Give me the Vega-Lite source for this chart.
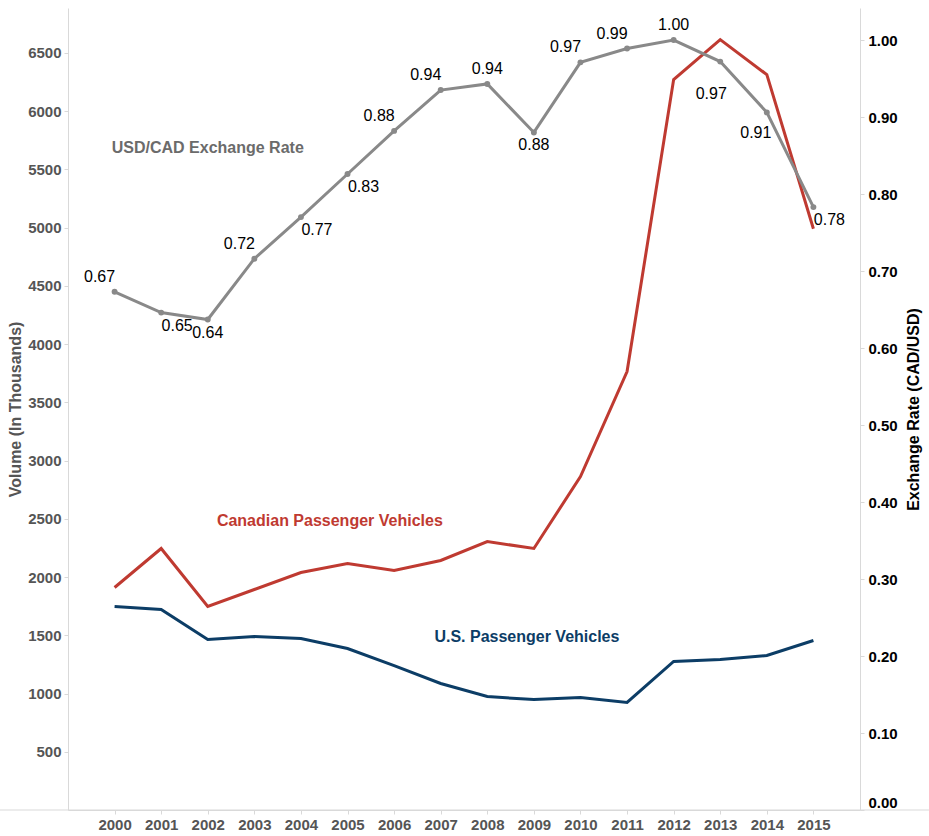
{
  "$schema": "https://vega.github.io/schema/vega-lite/v6.json",
  "width": 792,
  "height": 802,
  "autosize": {"type": "none"},
  "padding": {"left": 68, "top": 8, "right": 69, "bottom": 26},
  "background": "white",
  "config": {
    "view": {"stroke": null},
    "font": "Liberation Sans",
    "axis": {
      "grid": false,
      "domainColor": "#d9d9d9",
      "tickColor": "#d9d9d9",
      "tickSize": 4,
      "labelFont": "Liberation Sans",
      "labelFontWeight": "bold",
      "labelFontSize": 15,
      "titleFont": "Liberation Sans",
      "titleFontWeight": "bold",
      "titleFontSize": 16
    }
  },
  "datasets": {
    "vehicles": [
      {"year": 2000, "series": "Canadian", "volume": 1910},
      {"year": 2001, "series": "Canadian", "volume": 2245},
      {"year": 2002, "series": "Canadian", "volume": 1747},
      {"year": 2003, "series": "Canadian", "volume": 1893},
      {"year": 2004, "series": "Canadian", "volume": 2039},
      {"year": 2005, "series": "Canadian", "volume": 2116},
      {"year": 2006, "series": "Canadian", "volume": 2056},
      {"year": 2007, "series": "Canadian", "volume": 2142},
      {"year": 2008, "series": "Canadian", "volume": 2305},
      {"year": 2009, "series": "Canadian", "volume": 2245},
      {"year": 2010, "series": "Canadian", "volume": 2863},
      {"year": 2011, "series": "Canadian", "volume": 3764},
      {"year": 2012, "series": "Canadian", "volume": 6270},
      {"year": 2013, "series": "Canadian", "volume": 6614},
      {"year": 2014, "series": "Canadian", "volume": 6313},
      {"year": 2015, "series": "Canadian", "volume": 4990},
      {"year": 2000, "series": "US", "volume": 1747},
      {"year": 2001, "series": "US", "volume": 1721},
      {"year": 2002, "series": "US", "volume": 1463},
      {"year": 2003, "series": "US", "volume": 1489},
      {"year": 2004, "series": "US", "volume": 1472},
      {"year": 2005, "series": "US", "volume": 1386},
      {"year": 2006, "series": "US", "volume": 1240},
      {"year": 2007, "series": "US", "volume": 1086},
      {"year": 2008, "series": "US", "volume": 974},
      {"year": 2009, "series": "US", "volume": 948},
      {"year": 2010, "series": "US", "volume": 966},
      {"year": 2011, "series": "US", "volume": 923},
      {"year": 2012, "series": "US", "volume": 1275},
      {"year": 2013, "series": "US", "volume": 1292},
      {"year": 2014, "series": "US", "volume": 1326},
      {"year": 2015, "series": "US", "volume": 1455}
    ],
    "rate": [
      {"year": 2000, "rate": 0.673},
      {"year": 2001, "rate": 0.646},
      {"year": 2002, "rate": 0.637},
      {"year": 2003, "rate": 0.716},
      {"year": 2004, "rate": 0.770},
      {"year": 2005, "rate": 0.826},
      {"year": 2006, "rate": 0.882},
      {"year": 2007, "rate": 0.935},
      {"year": 2008, "rate": 0.943},
      {"year": 2009, "rate": 0.880},
      {"year": 2010, "rate": 0.971},
      {"year": 2011, "rate": 0.989},
      {"year": 2012, "rate": 1.000},
      {"year": 2013, "rate": 0.972},
      {"year": 2014, "rate": 0.906},
      {"year": 2015, "rate": 0.783}
    ],
    "vehicleNotes": [
      {"year": 2004.62, "volume": 2485, "series": "Canadian", "label": "Canadian Passenger Vehicles"},
      {"year": 2008.85, "volume": 1489, "series": "US", "label": "U.S. Passenger Vehicles"}
    ],
    "rateNotes": [
      {"year": 2002.0, "rate": 0.86, "label": "USD/CAD Exchange Rate"}
    ],
    "baseline": [
      {"year": 1997.54, "year2": 2017.48, "rate": 0}
    ]
  },
  "encoding": {
    "x": {
      "field": "year",
      "type": "quantitative",
      "scale": {"domain": [1999, 2016], "nice": false, "zero": false},
      "axis": {
        "title": null,
        "values": [2000, 2001, 2002, 2003, 2004, 2005, 2006, 2007, 2008, 2009, 2010, 2011, 2012, 2013, 2014, 2015],
        "format": "d",
        "labelColor": "#555555",
        "labelPadding": 3,
        "labelFlush": false
      }
    }
  },
  "layer": [
    {
      "encoding": {
        "y": {
          "field": "volume",
          "type": "quantitative",
          "scale": {"domain": [0, 6885], "nice": false, "zero": true},
          "axis": {
            "orient": "left",
            "title": "Volume (In Thousands)",
            "titleColor": "#555555",
            "labelColor": "#555555",
            "format": "d",
            "values": [500, 1000, 1500, 2000, 2500, 3000, 3500, 4000, 4500, 5000, 5500, 6000, 6500],
            "labelPadding": 3,
            "titlePadding": 4
          }
        },
        "color": {
          "field": "series",
          "type": "nominal",
          "scale": {"domain": ["Canadian", "US"], "range": ["#bf3a31", "#0c3d66"]},
          "legend": null
        }
      },
      "layer": [
        {
          "data": {"name": "vehicles"},
          "mark": {"type": "line", "strokeWidth": 3, "interpolate": "linear"}
        },
        {
          "data": {"name": "vehicleNotes"},
          "mark": {"type": "text", "fontSize": 16, "fontWeight": "bold", "font": "Liberation Sans"},
          "encoding": {
            "text": {"field": "label", "type": "nominal"}
          }
        }
      ]
    },
    {
      "encoding": {
        "y": {
          "field": "rate",
          "type": "quantitative",
          "scale": {"domain": [0, 1.0416], "nice": false, "zero": true},
          "axis": {
            "orient": "right",
            "title": "Exchange Rate (CAD/USD)",
            "titleColor": "#000000",
            "titleAngle": 270,
            "titleBaseline": "top",
            "labelColor": "#000000",
            "format": ".2f",
            "values": [0, 0.1, 0.2, 0.3, 0.4, 0.5, 0.6, 0.7, 0.8, 0.9, 1.0],
            "labelPadding": 4,
            "titlePadding": 8,
            "labelFlush": true
          }
        }
      },
      "layer": [
        {
          "data": {"name": "baseline"},
          "mark": {"type": "rule", "color": "#d9d9d9", "strokeWidth": 1},
          "encoding": {
            "x2": {"field": "year2"}
          }
        },
        {
          "data": {"name": "rate"},
          "mark": {"type": "line", "strokeWidth": 3, "color": "#898989"}
        },
        {
          "data": {"name": "rate"},
          "mark": {"type": "point", "filled": true, "size": 35, "color": "#898989", "opacity": 1}
        },
        {
          "data": {"name": "rate"},
          "transform": [{"filter": "indexof([2000, 2003, 2006, 2007, 2010, 2011], datum.year) >= 0"}],
          "mark": {"type": "text", "fontSize": 16, "dx": -15, "dy": -15, "color": "#000000", "font": "Liberation Sans"},
          "encoding": {"text": {"field": "rate", "type": "quantitative", "format": ".2f"}}
        },
        {
          "data": {"name": "rate"},
          "transform": [{"filter": "indexof([2008, 2012], datum.year) >= 0"}],
          "mark": {"type": "text", "fontSize": 16, "dx": 0, "dy": -15, "color": "#000000", "font": "Liberation Sans"},
          "encoding": {"text": {"field": "rate", "type": "quantitative", "format": ".2f"}}
        },
        {
          "data": {"name": "rate"},
          "transform": [{"filter": "indexof([2001, 2004, 2005, 2015], datum.year) >= 0"}],
          "mark": {"type": "text", "fontSize": 16, "dx": 16, "dy": 13, "color": "#000000", "font": "Liberation Sans"},
          "encoding": {"text": {"field": "rate", "type": "quantitative", "format": ".2f"}}
        },
        {
          "data": {"name": "rate"},
          "transform": [{"filter": "indexof([2002, 2009], datum.year) >= 0"}],
          "mark": {"type": "text", "fontSize": 16, "dx": 0, "dy": 13, "color": "#000000", "font": "Liberation Sans"},
          "encoding": {"text": {"field": "rate", "type": "quantitative", "format": ".2f"}}
        },
        {
          "data": {"name": "rate"},
          "transform": [{"filter": "datum.year == 2013"}],
          "mark": {"type": "text", "fontSize": 16, "dx": -9, "dy": 32, "color": "#000000", "font": "Liberation Sans"},
          "encoding": {"text": {"field": "rate", "type": "quantitative", "format": ".2f"}}
        },
        {
          "data": {"name": "rate"},
          "transform": [{"filter": "datum.year == 2014"}],
          "mark": {"type": "text", "fontSize": 16, "dx": -11, "dy": 21, "color": "#000000", "font": "Liberation Sans"},
          "encoding": {"text": {"field": "rate", "type": "quantitative", "format": ".2f"}}
        },
        {
          "data": {"name": "rateNotes"},
          "mark": {"type": "text", "fontSize": 16, "fontWeight": "bold", "color": "#6b6b6b", "font": "Liberation Sans"},
          "encoding": {
            "text": {"field": "label", "type": "nominal"}
          }
        }
      ]
    }
  ],
  "resolve": {"scale": {"y": "independent"}}
}
